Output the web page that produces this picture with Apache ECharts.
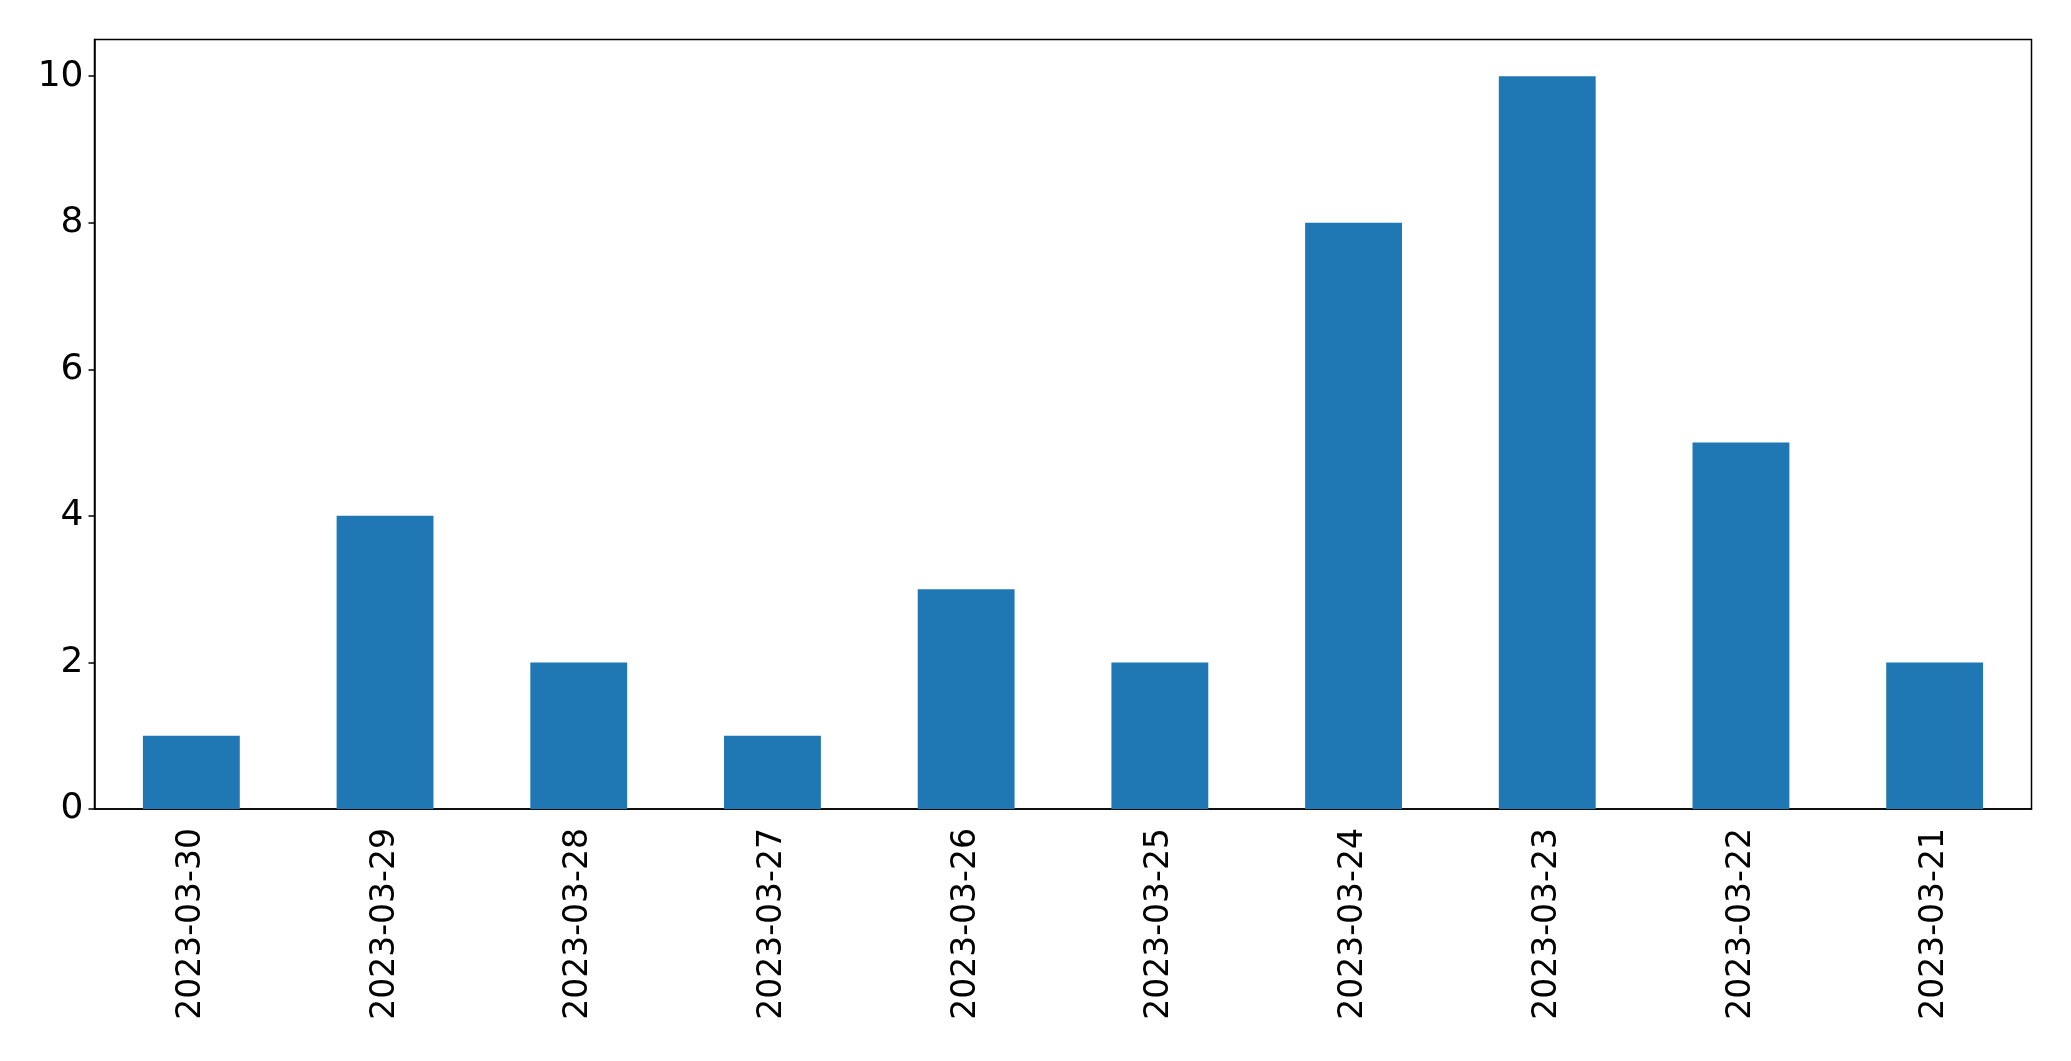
<!DOCTYPE html>
<html>
<head>
<meta charset="utf-8">
<script src="https://cdn.jsdelivr.net/npm/echarts@6/dist/echarts.min.js"></script>
<style>
  html, body { margin: 0; padding: 0; background: #fff; }
  #chart { width: 2071px; height: 1061px; }
</style>
</head>
<body>
<div id="chart"></div>
<script>
// dates as they appear on the x axis (newest first)
const categories = ['2023-03-30', '2023-03-29', '2023-03-28', '2023-03-27', '2023-03-26',
  '2023-03-25', '2023-03-24', '2023-03-23', '2023-03-22', '2023-03-21'];
const counts = [1, 4, 2, 1, 3, 2, 8, 10, 5, 2];
const yTicks = [0, 2, 4, 6, 8, 10];

const font = 'DejaVu Sans';
const myChart = echarts.init(document.getElementById('chart'));

const option = {
  backgroundColor: '#fff',
  animation: false,
  grid: {
    left: 94.5,
    right: 39.5,
    top: 39.5,
    bottom: 252,
    show: true,
    borderColor: '#000',
    borderWidth: 1.5,
    backgroundColor: 'transparent'
  },
  xAxis: {
    type: 'category',
    data: categories,
    axisLine: { lineStyle: { color: '#000', width: 1.5 } },
    axisTick: { alignWithLabel: true, length: 6, lineStyle: { color: '#000', width: 1.5 } },
    axisLabel: {
      rotate: 90,
      margin: 19,
      fontFamily: font,
      fontSize: 33,
      color: '#000',
      interval: 0
    },
    splitLine: { show: false }
  },
  yAxis: {
    type: 'value',
    min: 0,
    max: 10.5,
    axisLine: { show: true, lineStyle: { color: '#000', width: 1.5 } },
    axisTick: { show: true, length: 6, customValues: yTicks, lineStyle: { color: '#000', width: 1.5 } },
    axisLabel: {
      customValues: yTicks,
      margin: 11,
      fontFamily: font,
      fontSize: 36,
      color: '#000'
    },
    splitLine: { show: false }
  },
  series: [{
    type: 'bar',
    data: counts,
    barCategoryGap: '50%',
    itemStyle: { color: '#1f77b4' }
  }]
};

myChart.setOption(option);
</script>
</body>
</html>
